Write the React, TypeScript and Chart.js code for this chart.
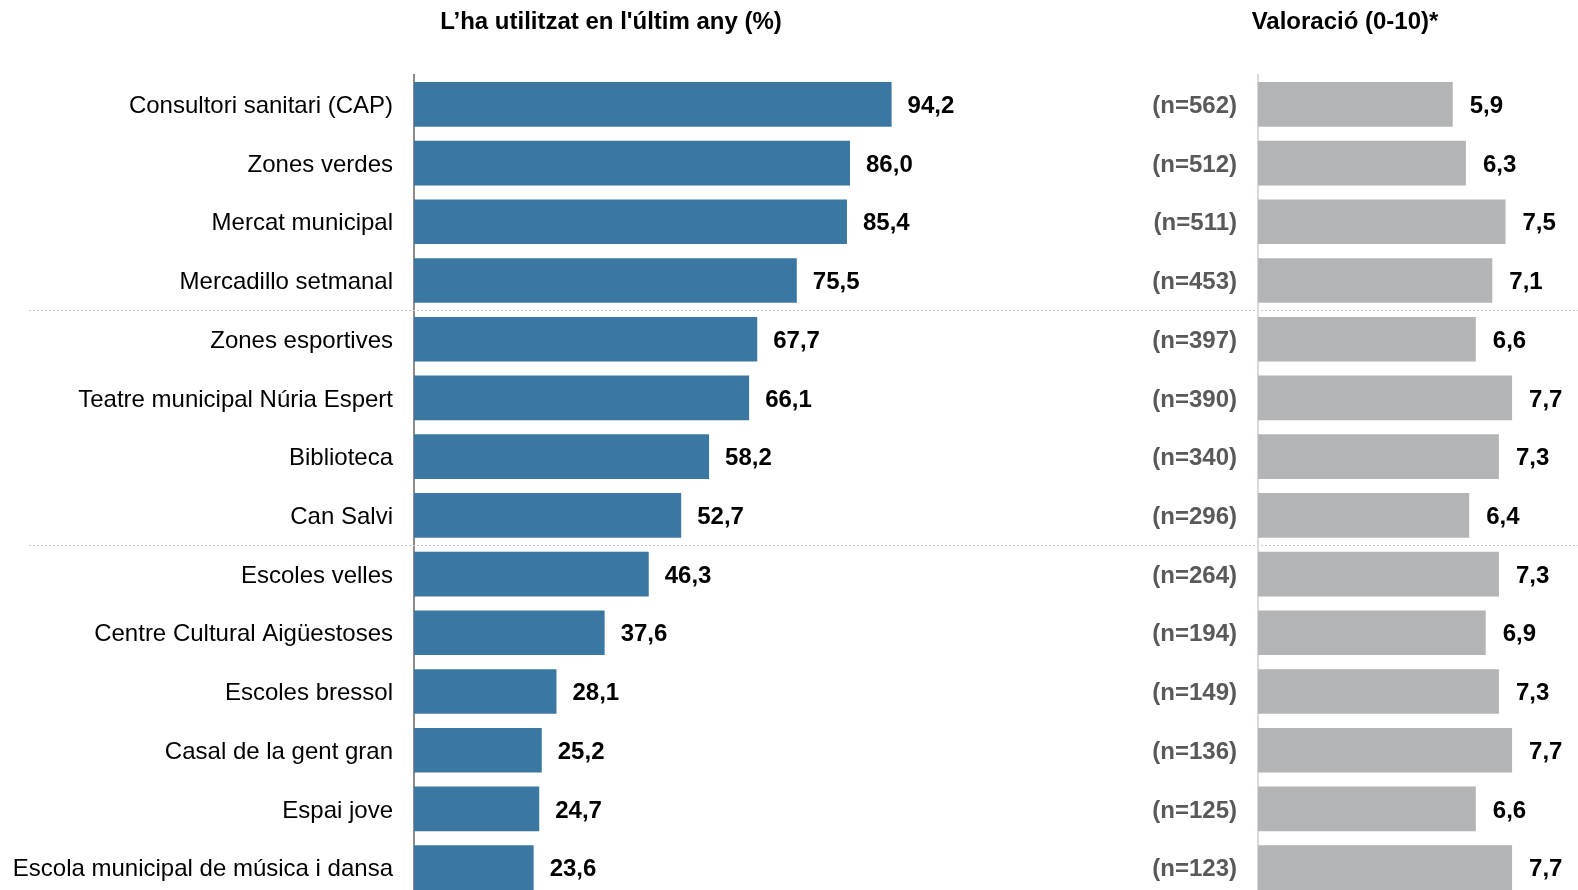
import React, { useEffect, useRef } from "react";
import { Chart, registerables } from "chart.js";

Chart.register(...registerables);

// ---------- data ----------
const categories = [
  "Consultori sanitari (CAP)",
  "Zones verdes",
  "Mercat municipal",
  "Mercadillo setmanal",
  "Zones esportives",
  "Teatre municipal Núria Espert",
  "Biblioteca",
  "Can Salvi",
  "Escoles velles",
  "Centre Cultural Aigüestoses",
  "Escoles bressol",
  "Casal de la gent gran",
  "Espai jove",
  "Escola municipal de música i dansa",
];
const usagePct = [94.2, 86.0, 85.4, 75.5, 67.7, 66.1, 58.2, 52.7, 46.3, 37.6, 28.1, 25.2, 24.7, 23.6];
const sampleSizes = [562, 512, 511, 453, 397, 390, 340, 296, 264, 194, 149, 136, 125, 123];
const ratings = [5.9, 6.3, 7.5, 7.1, 6.6, 7.7, 7.3, 6.4, 7.3, 6.9, 7.3, 7.7, 6.6, 7.7];
const groupBreaksAfter = [3, 7];
const titleUsage = "L’ha utilitzat en l'últim any (%)";
const titleRating = "Valoració (0-10)*";
const usageAxisMax = 100;
const ratingAxisMax = 10;

// ---------- style ----------
const FAMILY = "'Liberation Sans', Arial, sans-serif";
const FS = 24;
const W = 1600;
const H = 900;
const BLUE = "#3a77a2";
const GREY_BAR = "#b3b4b6";

const fmt = (v: number) => v.toFixed(1).replace(".", ",");

function valueLabelPlugin(id: string, offset: number) {
  return {
    id,
    afterDatasetsDraw(chart: any) {
      const ctx = chart.ctx;
      const meta = chart.getDatasetMeta(0);
      const data = chart.data.datasets[0].data as number[];
      ctx.save();
      ctx.font = `bold ${FS}px ${FAMILY}`;
      ctx.fillStyle = "#000";
      ctx.textAlign = "left";
      ctx.textBaseline = "middle";
      meta.data.forEach((el: any, i: number) => {
        ctx.fillText(fmt(data[i]), el.x + offset, el.y + 2);
      });
      ctx.restore();
    },
  };
}

const decorPlugin = {
  id: "decor",
  afterDatasetsDraw(chart: any) {
    const ctx = chart.ctx;
    const y = chart.scales.y;
    ctx.save();
    ctx.strokeStyle = "#c8c8c8";
    ctx.lineWidth = 1;
    ctx.setLineDash([2, 2]);
    groupBreaksAfter.forEach((b) => {
      const py = Math.round((y.getPixelForValue(b) + y.getPixelForValue(b + 1)) / 2) + 0.5;
      ctx.beginPath();
      ctx.moveTo(29, py);
      ctx.lineTo(1578, py);
      ctx.stroke();
    });
    ctx.setLineDash([]);
    ctx.font = `bold ${FS}px ${FAMILY}`;
    ctx.fillStyle = "#000";
    ctx.textAlign = "center";
    ctx.textBaseline = "middle";
    ctx.fillText(titleUsage, 611, 22);
    ctx.fillText(titleRating, 1345, 22);
    ctx.restore();
  },
};

function fixAxis(width: number) {
  return (scale: any) => {
    scale.width = width;
    scale.paddingTop = 0;
    scale.paddingBottom = 0;
  };
}

export default function App() {
  const refA = useRef<HTMLCanvasElement | null>(null);
  const refB = useRef<HTMLCanvasElement | null>(null);

  useEffect(() => {
    const chartA = new Chart(refA.current as HTMLCanvasElement, {
      type: "bar",
      data: {
        labels: categories,
        datasets: [
          {
            data: usagePct,
            backgroundColor: BLUE,
            borderWidth: 0,
            categoryPercentage: 1,
            barPercentage: 0.76,
          },
        ],
      },
      options: {
        indexAxis: "y",
        responsive: false,
        animation: false,
        devicePixelRatio: 1,
        layout: { padding: { left: 0, right: W - 921, top: 75, bottom: H - 897 } },
        plugins: { legend: { display: false }, tooltip: { enabled: false } },
        scales: {
          x: { min: 0, max: usageAxisMax, display: false },
          y: {
            grid: { display: false, drawTicks: false },
            border: { display: true, color: "#8c8c8c", width: 2 },
            ticks: { color: "#000", font: { family: FAMILY, size: FS }, padding: 21, labelOffset: 2 },
            afterFit: fixAxis(414),
          },
        },
      },
      plugins: [valueLabelPlugin("valsA", 16), decorPlugin],
    } as any);

    const chartB = new Chart(refB.current as HTMLCanvasElement, {
      type: "bar",
      data: {
        labels: sampleSizes.map((n) => `(n=${n})`),
        datasets: [
          {
            data: ratings,
            backgroundColor: GREY_BAR,
            borderWidth: 0,
            categoryPercentage: 1,
            barPercentage: 0.76,
          },
        ],
      },
      options: {
        indexAxis: "y",
        responsive: false,
        animation: false,
        devicePixelRatio: 1,
        layout: { padding: { left: 0, right: W - 1588, top: 75, bottom: H - 897 } },
        plugins: { legend: { display: false }, tooltip: { enabled: false } },
        scales: {
          x: { min: 0, max: ratingAxisMax, display: false },
          y: {
            grid: { display: false, drawTicks: false },
            border: { display: true, color: "#d9d9d9", width: 2 },
            ticks: {
              color: "#595959",
              font: { family: FAMILY, size: FS, weight: "bold" },
              padding: 21,
              labelOffset: 2,
            },
            afterFit: fixAxis(1258),
          },
        },
      },
      plugins: [valueLabelPlugin("valsB", 17)],
    } as any);

    return () => {
      chartA.destroy();
      chartB.destroy();
    };
  }, []);

  return (
    <div
      style={{
        position: "fixed",
        left: 0,
        top: 0,
        width: 1578,
        height: 890,
        overflow: "hidden",
        background: "#fff",
      }}
    >
      <canvas ref={refA} width={W} height={H} style={{ position: "absolute", left: 0, top: 0, width: W, height: H }} />
      <canvas ref={refB} width={W} height={H} style={{ position: "absolute", left: 0, top: 0, width: W, height: H }} />
    </div>
  );
}
